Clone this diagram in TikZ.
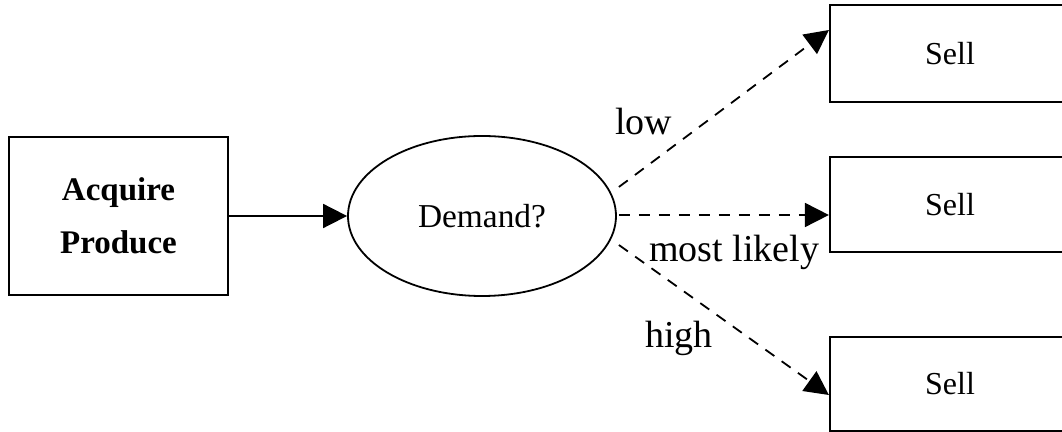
\documentclass[tikz,border=0pt]{standalone}
\usepackage{fontspec}
\setmainfont{Liberation Serif}
\usetikzlibrary{arrows.meta,calc,shapes.geometric}
\begin{document}
\begin{tikzpicture}[x=0.5pt,y=-0.5pt,
  boxnode/.style={draw,line width=1.1pt,inner sep=0pt,font=\fontsize{16}{19}\selectfont},
  arr/.style={line width=0.9pt,-{Triangle[length=12pt,width=12pt]}},
  dasharr/.style={arr,dash pattern=on 5.5pt off 4.5pt},
  lbl/.style={font=\fontsize{19}{22}\selectfont,anchor=base,inner sep=0pt}]
\useasboundingbox (0,0) rectangle (1062,432);
\clip (0,0) rectangle (1062,432);
\node[boxnode,minimum width=109.5pt,minimum height=79pt,align=center,
  font=\fontsize{16.5}{26.5}\selectfont\bfseries] (acq) at (118.5,216) {Acquire\\Produce};
\node[draw,ellipse,line width=0.9pt,minimum width=134pt,minimum height=80pt,inner sep=0pt,
  font=\fontsize{16.7}{20}\selectfont] (dem) at (482,216) {Demand?};
\node[boxnode,minimum width=120pt,minimum height=48.5pt] (s1) at (950,53.5) {Sell};
\node[boxnode,minimum width=120pt,minimum height=47.5pt] (s2) at (950,204.5) {Sell};
\node[boxnode,minimum width=120pt,minimum height=47pt] (s3) at (950,384) {Sell};
\draw[arr] (acq.east) -- (dem.west);
\draw[dasharr] ($(dem.east)+(2,-29)$) -- ($(s1.west)+(0,-23.5)$);
\draw[dasharr] ($(dem.east)+(2,-1)$) -- ($(s2.west)+(0,10.5)$);
\draw[dasharr] ($(dem.east)+(2,29)$) -- ($(s3.west)+(0,11)$);
\node[lbl] (llow) at (643.5,135) {low};
\node[lbl] (lmost) at (734,262) {most likely};
\node[lbl] (lhigh) at (679,348) {high};
\end{tikzpicture}
\end{document}
